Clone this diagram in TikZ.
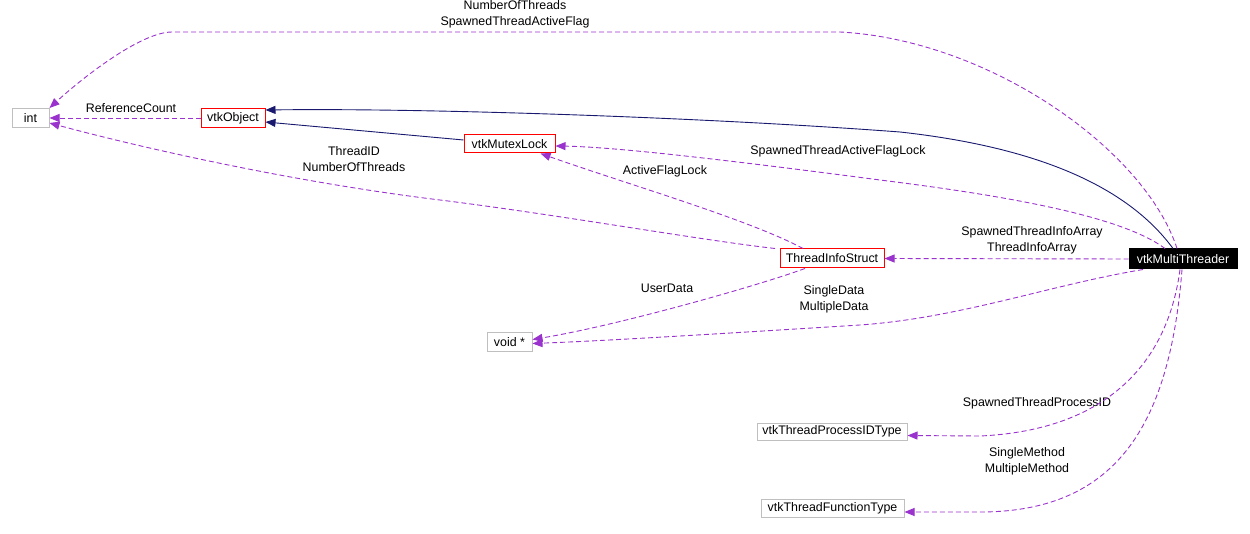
\documentclass[tikz,border=0pt]{standalone}
\usepackage{fontspec}
\setmainfont{Liberation Sans}
\usepackage{tikz}
\usetikzlibrary{arrows.meta}
\definecolor{depviolet}{RGB}{154, 50, 205}
\definecolor{inhnavy}{RGB}{25, 25, 112}
\definecolor{extgray}{RGB}{191, 191, 191}
\tikzset{
  clsbox/.style = {
    rectangle, draw=red, line width=1pt, fill=white,
    minimum width=#1, minimum height=19pt, inner sep=0pt,
    font=\fontsize{12.4}{14}\selectfont
  },
  clsbox/.default = 64pt,
  extbox/.style = {
    clsbox=#1, draw=extgray
  },
  extbox/.default = 40pt,
  mainbox/.style = {
    clsbox=#1, draw=black, fill=black, text=white
  },
  mainbox/.default = 108pt,
  dep/.style = {-{Triangle[length=10pt, width=8pt]}, draw=depviolet,
    line width=0.9pt, dash pattern=on 5pt off 3pt},
  inh/.style = {-{Triangle[length=10pt, width=8pt]}, draw=inhnavy,
    line width=0.9pt},
  lbl/.style = {font=\fontsize{12.4}{16}\selectfont, align=center,
    inner sep=0pt},
}

\begin{document}
\begin{tikzpicture}[x=1pt, y=-1pt]
  \useasboundingbox (0,0) rectangle (1250,534);

  % classes
  \node[extbox=37pt]  (int)   at (30.5,118)  {int};
  \node[clsbox=64pt]  (obj)   at (233,118)   {vtkObject};
  \node[clsbox=91pt, minimum height=18pt] (mutex) at (509.5,144) {vtkMutexLock};
  \node[clsbox=104pt] (tis)   at (832,258.5) {ThreadInfoStruct};
  \node[mainbox=108pt, minimum height=20pt] (mt) at (1183,259) {vtkMultiThreader};
  \node[extbox=45pt]  (void)  at (509.5,342.5) {void *};
  \node[extbox=150pt, minimum height=17pt] (pid) at (832,431.5) {vtkThreadProcessIDType};
  \node[extbox=143pt, minimum height=18pt] (fun) at (832.5,508) {vtkThreadFunctionType};

  % member names
  \node[lbl] (lnum)   at (515,14.5) {NumberOfThreads\\SpawnedThreadActiveFlag};
  \node[lbl] (lref)   at (131,108)  {ReferenceCount};
  \node[lbl] (ltid)   at (354,159)  {ThreadID\\NumberOfThreads};
  \node[lbl] (lafl)   at (665,171)  {ActiveFlagLock};
  \node[lbl] (lstafl) at (838,151)  {SpawnedThreadActiveFlagLock};
  \node[lbl] (ltia)   at (1032,240) {SpawnedThreadInfoArray\\ThreadInfoArray};
  \node[lbl] (lud)    at (667,288)  {UserData};
  \node[lbl] (lsd)    at (834,299)  {SingleData\\MultipleData};
  \node[lbl] (lspid)  at (1037,403) {SpawnedThreadProcessID};
  \node[lbl] (lsm)    at (1027,461) {SingleMethod\\MultipleMethod};

  % inheritance
  \draw[inh] ([xshift=-10pt]mt.north) .. controls (1130,190) and (1045,148) .. (900,132)
    .. controls (700,117) and (420,108) .. ([yshift=8pt]obj.east);
  \draw[inh] ([yshift=4pt]mutex.west) -- ([yshift=-4pt]obj.east);

  % usage
  \draw[dep] ([xshift=-6pt]mt.north) .. controls (1145,150) and (990,40) .. (840,32)
    -- (172,32) .. controls (140,32) and (80,80) .. (int.north east);
  \draw[dep] (obj.west) -- (int.east);
  \draw[dep] ([xshift=-18pt]mt.north) .. controls (1120,215) and (1000,195) .. (880,180)
    .. controls (750,163) and (620,147) .. ([yshift=-2pt]mutex.east);
  \draw[dep] (mt.west) -- (tis.east);
  \draw[dep] ([xshift=-57pt]tis.north) .. controls (700,240) and (560,215) .. (440,200)
    .. controls (300,183) and (150,150) .. ([yshift=-5pt]int.east);
  \draw[dep] ([xshift=-29pt]tis.north) .. controls (750,220) and (630,185) .. ([xshift=31pt]mutex.south);
  \draw[dep] ([xshift=-27pt]tis.south) .. controls (760,285) and (620,325) .. ([yshift=3pt]void.east);
  \draw[dep] ([xshift=-40pt]mt.south) .. controls (1050,285) and (960,318) .. (860,325)
    .. controls (700,335) and (600,341) .. ([yshift=-1pt]void.east);
  \draw[dep] ([xshift=-3pt]mt.south) .. controls (1168,360) and (1110,430) .. (980,436)
    -- ([yshift=-4pt]pid.east);
  \draw[dep] ([xshift=-1pt]mt.south) .. controls (1170,420) and (1120,512) .. (980,512)
    -- ([yshift=-4pt]fun.east);

\end{tikzpicture}
\end{document}
